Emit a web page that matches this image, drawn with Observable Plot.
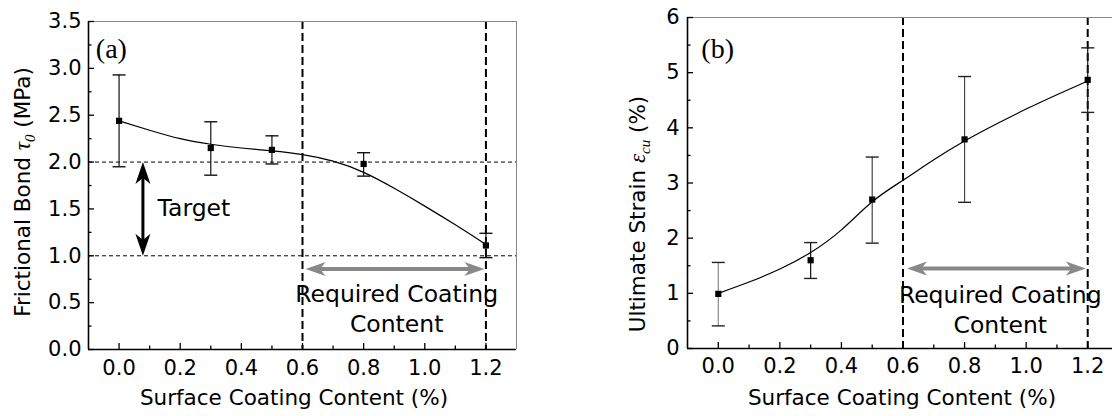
<!DOCTYPE html>
<html><head><meta charset="utf-8">
<script src="https://cdn.jsdelivr.net/npm/d3@7"></script>
<script src="https://cdn.jsdelivr.net/npm/@observablehq/plot@0.6"></script>
<style>
html,body{margin:0;padding:0;background:#fff;}
#wrap{position:relative;width:1112px;height:416px;overflow:hidden;background:#fff;}
#a{position:absolute;left:0;top:0;width:540px;height:416px;}
#b{position:absolute;left:560px;top:0;width:552px;height:416px;}
</style></head><body>
<div id="wrap"><div id="a"></div><div id="b"></div></div>
<script>
// ---------- data ----------
const coating = [0, 0.3, 0.5, 0.8, 1.2];
const bondMean = [2.44, 2.15, 2.13, 1.98, 1.11];
const bondLow = [1.95, 1.86, 1.98, 1.85, 0.98];
const bondHigh = [2.93, 2.43, 2.28, 2.10, 1.24];
const strainMean = [0.99, 1.60, 2.70, 3.79, 4.87];
const strainLow = [0.41, 1.27, 1.91, 2.65, 4.28];
const strainHigh = [1.56, 1.92, 3.47, 4.93, 5.45];
const fitX = [0, 0.1, 0.2, 0.3, 0.4, 0.5, 0.6, 0.7, 0.8, 0.9, 1.0, 1.1, 1.2];
const bondFit = [2.44, 2.34, 2.25, 2.19, 2.15, 2.12, 2.08, 2.01, 1.89, 1.72, 1.53, 1.33, 1.12];
const strainFit = [1.00, 1.205, 1.44, 1.74, 2.15, 2.66, 3.05, 3.42, 3.76, 4.06, 4.34, 4.60, 4.85];
const xTicks = [0, 0.2, 0.4, 0.6, 0.8, 1.0, 1.2];
const xMinor = [0.1, 0.3, 0.5, 0.7, 0.9, 1.1];
const bondTicks = [0, 0.5, 1.0, 1.5, 2.0, 2.5, 3.0, 3.5];
const bondMinor = [0.25, 0.75, 1.25, 1.75, 2.25, 2.75, 3.25];
const strainTicks = [0, 1, 2, 3, 4, 5, 6];
const strainMinor = [0.5, 1.5, 2.5, 3.5, 4.5, 5.5];
const xDomain = [-0.1, 1.3];
const bondDomain = [0, 3.5];
const strainDomain = [0, 6];
const targetBounds = [1.0, 2.0];
const requiredBounds = [0.6, 1.2];
// annotations
const targetArrow = [{x: 0.078, top: 2.0, bottom: 1.0}];
const rangeArrowA = [{y: 0.86, x1: 0.61, x2: 1.195}];
const rangeArrowB = [{y: 1.45, x1: 0.613, x2: 1.194}];
const labelsA = [
  {x: 0.908, y: 0.59, text: "Required Coating"},
  {x: 0.908, y: 0.27, text: "Content"}
];
const labelsB = [
  {x: 0.916, y: 0.97, text: "Required Coating"},
  {x: 0.916, y: 0.42, text: "Content"}
];
const targetLabel = [{x: 0.126, y: 1.51, text: "Target"}];
const panelA = [{x: -0.076, y: 3.11, text: "(a)"}];
const panelB = [{x: -0.055, y: 5.26, text: "(b)"}];
const barColorsB = ["#8a8a8a", "#111", "#444", "#444", "#111"];

// ---------- symbols ----------
const head = (L, W) => ({draw(c) { c.moveTo(0, 0); c.lineTo(W, L); c.lineTo(0, L * 0.72); c.lineTo(-W, L); c.closePath(); }});
const capSym = {draw(c) { c.moveTo(-6.5, 0); c.lineTo(6.5, 0); }};
const squareSym = {draw(c) { c.rect(-3.1, -3.1, 6.2, 6.2); }};
const grayHead = head(20, 7);
const blackHead = head(22, 7.5);

const SANS = "DejaVu Sans";
const rows = (mean, low, high) => coating.map((x, i) => ({x, y: mean[i], lo: low[i], hi: high[i], i}));
const fitRows = fit => fitX.map((x, i) => ({x, y: fit[i]}));

function axes(yDomainArr, yTicksArr, yMinorArr, yFmt, xPad, yPad) {
  return [
    Plot.ruleX([xDomain[1]], {stroke: "#888", strokeWidth: 1}),
    Plot.ruleY([yDomainArr[1]], {stroke: "#888", strokeWidth: 1}),
    Plot.axisX({ticks: xTicks, tickSize: -6, tickPadding: xPad, tickFormat: d3.format(".1f"), fontSize: 21, fontFamily: SANS, fill: "#000", strokeWidth: 1.3}),
    Plot.axisX({ticks: xMinor, tickSize: -3.5, tickFormat: () => "", strokeWidth: 1.3}),
    Plot.axisY({ticks: yTicksArr, tickSize: -6, tickPadding: yPad, tickFormat: yFmt, fontSize: 21, fontFamily: SANS, fill: "#000", strokeWidth: 1.3}),
    Plot.axisY({ticks: yMinorArr, tickSize: -3.5, tickFormat: () => "", strokeWidth: 1.3}),
    Plot.ruleX([xDomain[0]], {stroke: "#000", strokeWidth: 1.6}),
    Plot.ruleY([yDomainArr[0]], {stroke: "#000", strokeWidth: 1.6})
  ];
}

// ---------- panel (a) ----------
const dataA = rows(bondMean, bondLow, bondHigh);
const plotA = Plot.plot({
  width: 540, height: 416,
  marginLeft: 88, marginRight: 24, marginTop: 21, marginBottom: 67,
  style: {fontFamily: SANS, fontSize: "21px", background: "#fff", maxWidth: "none", overflow: "visible"},
  x: {domain: xDomain},
  y: {domain: bondDomain},
  marks: [
    Plot.ruleY(targetBounds, {stroke: "#000", strokeWidth: 1, strokeDasharray: "4,3"}),
    Plot.ruleX(requiredBounds, {stroke: "#000", strokeWidth: 2, strokeDasharray: "8,4"}),
    Plot.line(fitRows(bondFit), {x: "x", y: "y", curve: "natural", stroke: "#000", strokeWidth: 1.2}),
    Plot.ruleX(dataA, {x: "x", y1: "hi", y2: "lo", stroke: "#111", strokeWidth: 1.2}),
    Plot.dot(dataA, {x: "x", y: "lo", symbol: capSym, fill: "none", stroke: "#111", strokeWidth: 1.4}),
    Plot.dot(dataA, {x: "x", y: "hi", symbol: capSym, fill: "none", stroke: "#111", strokeWidth: 1.4}),
    Plot.dot(dataA, {x: "x", y: "y", symbol: squareSym, fill: "#000", stroke: "none"}),
    // target arrow
    Plot.ruleX(targetArrow, {x: "x", y1: "top", y2: "bottom", insetTop: 10, insetBottom: 10, stroke: "#000", strokeWidth: 3}),
    Plot.dot(targetArrow, {x: "x", y: "top", symbol: blackHead, rotate: 0, fill: "#000", stroke: "none"}),
    Plot.dot(targetArrow, {x: "x", y: "bottom", symbol: blackHead, rotate: 180, fill: "#000", stroke: "none"}),
    // required range arrow
    Plot.ruleY(rangeArrowA, {y: "y", x1: "x1", x2: "x2", insetLeft: 10, insetRight: 10, stroke: "#888", strokeWidth: 4}),
    Plot.dot(rangeArrowA, {x: "x1", y: "y", symbol: grayHead, rotate: -90, fill: "#888", stroke: "none"}),
    Plot.dot(rangeArrowA, {x: "x2", y: "y", symbol: grayHead, rotate: 90, fill: "#888", stroke: "none"}),
    Plot.text(labelsA, {x: "x", y: "y", text: "text", fontSize: 23.5, fontFamily: SANS, fill: "#000"}),
    Plot.text(targetLabel, {x: "x", y: "y", text: "text", textAnchor: "start", fontSize: 23.5, fontFamily: SANS, fill: "#000"}),
    Plot.text(panelA, {x: "x", y: "y", text: "text", textAnchor: "start", lineAnchor: "bottom", fontSize: 28, fontFamily: "Liberation Serif", fill: "#000"}),
    ...axes(bondDomain, bondTicks, bondMinor, d3.format(".1f"), 17, 13)
  ]
});
document.getElementById("a").appendChild(plotA);

// ---------- panel (b) ----------
const dataB = rows(strainMean, strainLow, strainHigh);
const plotB = Plot.plot({
  width: 552, height: 416,
  marginLeft: 127, marginRight: -6, marginTop: 17, marginBottom: 68,
  style: {fontFamily: SANS, fontSize: "21px", background: "#fff", maxWidth: "none", overflow: "visible"},
  x: {domain: xDomain},
  y: {domain: strainDomain},
  marks: [
    Plot.ruleX(requiredBounds, {stroke: "#000", strokeWidth: 2, strokeDasharray: "8,4"}),
    Plot.line(fitRows(strainFit), {x: "x", y: "y", curve: "natural", stroke: "#000", strokeWidth: 1.2}),
    Plot.ruleX(dataB, {x: "x", y1: "hi", y2: "lo", stroke: d => barColorsB[d.i], strokeWidth: 1.2}),
    Plot.dot(dataB, {x: "x", y: "lo", symbol: capSym, fill: "none", stroke: "#222", strokeWidth: 1.4}),
    Plot.dot(dataB, {x: "x", y: "hi", symbol: capSym, fill: "none", stroke: "#222", strokeWidth: 1.4}),
    Plot.dot(dataB, {x: "x", y: "y", symbol: squareSym, fill: "#000", stroke: "none"}),
    Plot.ruleY(rangeArrowB, {y: "y", x1: "x1", x2: "x2", insetLeft: 10, insetRight: 10, stroke: "#888", strokeWidth: 4}),
    Plot.dot(rangeArrowB, {x: "x1", y: "y", symbol: grayHead, rotate: -90, fill: "#888", stroke: "none"}),
    Plot.dot(rangeArrowB, {x: "x2", y: "y", symbol: grayHead, rotate: 90, fill: "#888", stroke: "none"}),
    Plot.text(labelsB, {x: "x", y: "y", text: "text", fontSize: 23.5, fontFamily: SANS, fill: "#000"}),
    Plot.text(panelB, {x: "x", y: "y", text: "text", textAnchor: "start", lineAnchor: "bottom", fontSize: 28, fontFamily: "Liberation Serif", fill: "#000"}),
    ...axes(strainDomain, strainTicks, strainMinor, d3.format("d"), 16, 14)
  ]
});
document.getElementById("b").appendChild(plotB);

// force tick label font (axis marks)
for (const svg of [plotA, plotB]) {
  d3.select(svg).selectAll('g[aria-label$="tick label"]')
    .attr("font-size", 21).attr("font-family", SANS).attr("fill", "#000");
}

// ---------- axis titles (mixed styling) ----------
function title(svg, x, y, rotate, parts) {
  const t = d3.select(svg).append("text")
    .attr("transform", `translate(${x},${y})` + (rotate ? " rotate(-90)" : ""))
    .attr("text-anchor", "middle")
    .attr("fill", "#000")
    .style("font-family", SANS)
    .style("font-size", "21.5px");
  for (const p of parts) {
    const s = t.append("tspan").text(p.text);
    if (p.italic) s.style("font-family", "Liberation Serif").style("font-style", "italic").style("font-size", "23px");
    if (p.sub) s.style("font-size", "15px").attr("dy", 5);
    if (p.after) s.attr("dy", -5);
  }
}
title(plotA, 29.5, 192, true, [
  {text: "Frictional Bond "}, {text: "τ", italic: true}, {text: "0", italic: true, sub: true}, {text: " (MPa)", after: true}
]);
title(plotA, 294, 405, false, [{text: "Surface Coating Content (%)"}]);
title(plotB, 85, 214, true, [
  {text: "Ultimate Strain "}, {text: "ε", italic: true}, {text: "cu", italic: true, sub: true}, {text: " (%)", after: true}
]);
title(plotB, 342, 405, false, [{text: "Surface Coating Content (%)"}]);
</script>
</body></html>
